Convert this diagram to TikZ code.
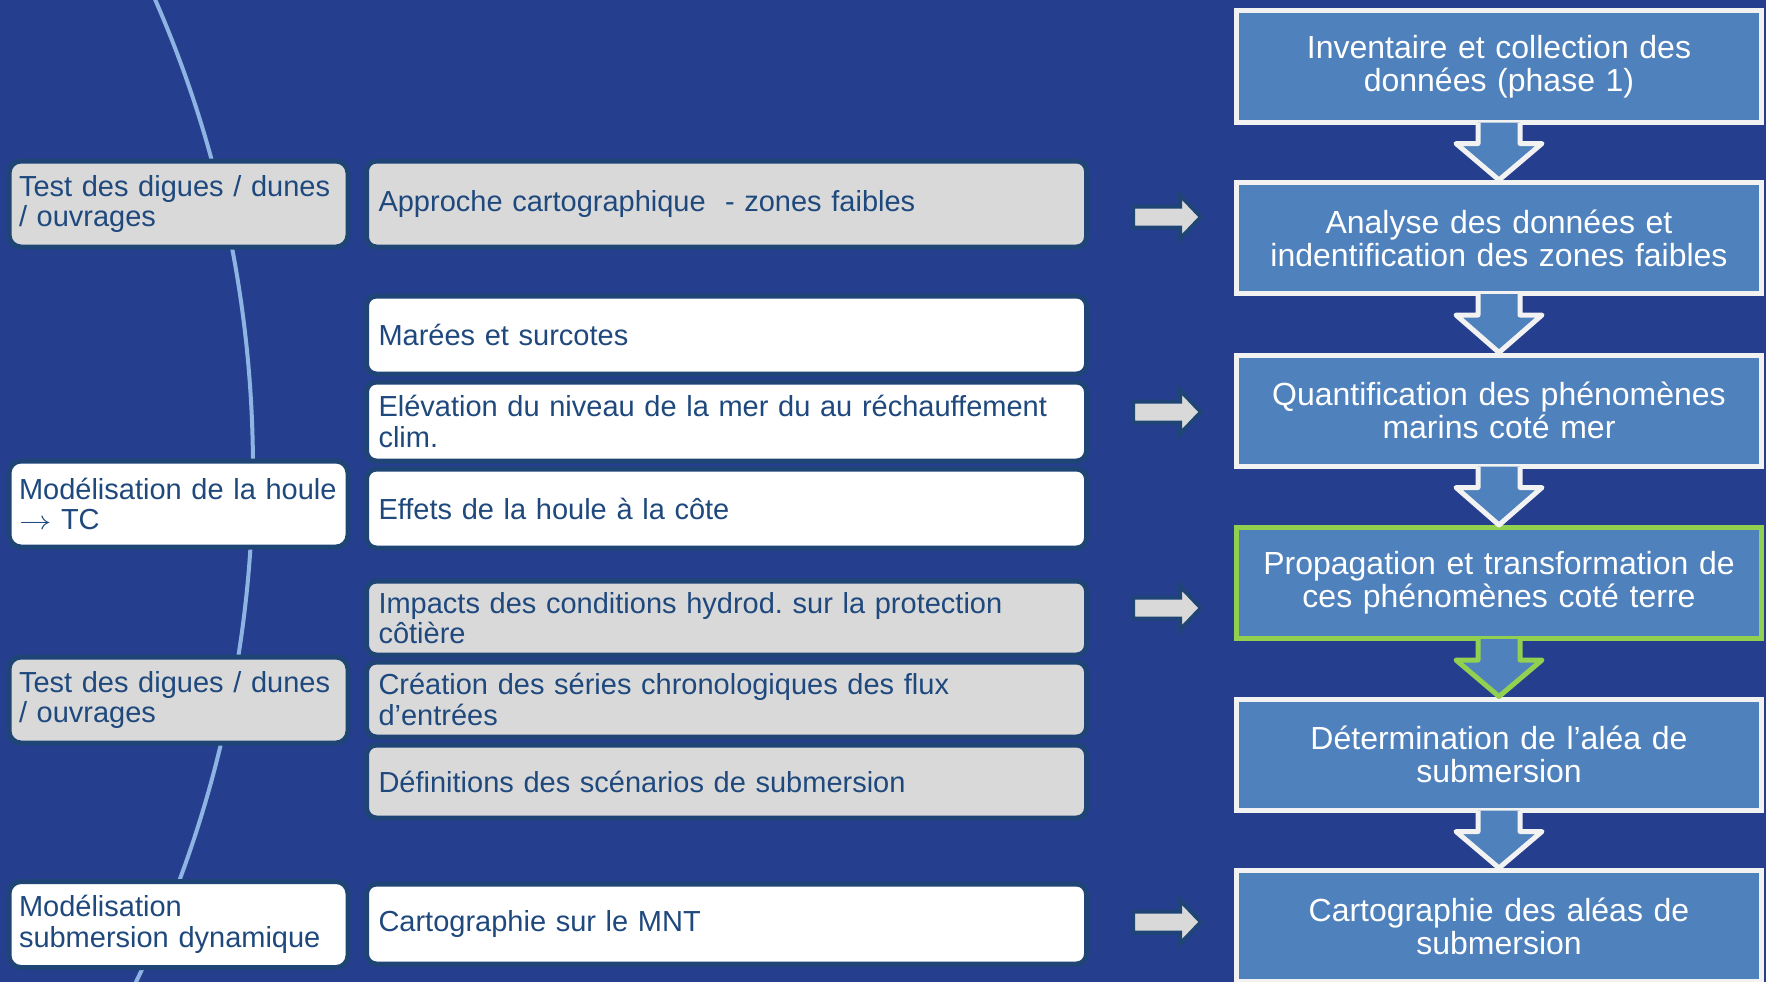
\documentclass[tikz,border=0pt]{standalone}
\usepackage{fontspec}
\setmainfont{Liberation Sans}
\usetikzlibrary{calc,positioning}
\frenchspacing

\definecolor{PageBlue}{RGB}{38,62,142}
\definecolor{StepBlue}{RGB}{79,129,189}
\definecolor{EdgeBlue}{RGB}{31,69,119}
\definecolor{TextBlue}{RGB}{31,73,125}
\definecolor{CurveBlue}{RGB}{141,180,226}
\definecolor{PaleGrey}{RGB}{217,217,217}
\definecolor{FocusGreen}{RGB}{146,208,80}
\definecolor{FrameWhite}{RGB}{242,242,242}

\newcommand{\XLeft}{178.5}
\newcommand{\XMid}{726.5}
\newcommand{\XStep}{1499}
\newcommand{\XSide}{1167}
\newcommand{\BoxFont}{\fontsize{29}{30.5}\selectfont}
\newcommand{\StepFont}{\fontsize{32}{33}\selectfont}

\newcommand{\StepArrow}[3]{%
  % #1 upper step, #2 lower step, #3 outline colour
  \draw[steparrow,draw=#3]
    ($(#1.south)+(-21,-2)$) -- ($(#1.south)+(-21,19)$) -- ($(#1.south)+(-43,19)$)
    -- (#2.north)
    -- ($(#1.south)+(43,19)$) -- ($(#1.south)+(21,19)$) -- ($(#1.south)+(21,-2)$);
}
\newcommand{\SideArrow}[2]{%
  % #1 name, #2 height of the arrow axis
  \coordinate (#1) at (\XSide,#2);
  \draw[sidearrow]
    ($(#1)+(-34,-10.5)$) -- ($(#1)+(13,-10.5)$) -- ($(#1)+(13,-22)$)
    -- ($(#1)+(34,0)$)
    -- ($(#1)+(13,22)$) -- ($(#1)+(13,10.5)$) -- ($(#1)+(-34,10.5)$) -- cycle;
}

\begin{document}
\begin{tikzpicture}[
  x=1pt, y=-1pt,
  sidebox/.style={rectangle,rounded corners=12pt,draw=EdgeBlue,line width=5pt,
    text=TextBlue,font=\BoxFont,align=left,text width=319pt,inner xsep=10pt,
    minimum height=86pt},
  taskbox/.style={rectangle,rounded corners=10pt,draw=EdgeBlue,line width=5pt,
    text=TextBlue,font=\BoxFont,align=left,text width=696pt,inner xsep=12pt},
  stepbox/.style={rectangle,draw=FrameWhite,fill=StepBlue,line width=5pt,
    text=white,font=\StepFont,align=center,text width=500pt,inner xsep=12.5pt,
    minimum height=111pt},
  steparrow/.style={fill=StepBlue,line width=5pt,line join=round},
  sidearrow/.style={draw=EdgeBlue,fill=PaleGrey,line width=4pt,line join=miter},
  curve/.style={draw=CurveBlue,line width=4pt}
]

% Page and the sweeping curve behind the left column
\useasboundingbox (0,0) rectangle (1766,982);
\fill[PageBlue] (0,0) rectangle (1766,982);
\begin{scope}
  \clip (0,0) rectangle (1766,982);
  \draw[curve] (-923,470) circle[radius=1176pt];
\end{scope}

% Left column: methods
\node[sidebox,fill=PaleGrey] (L1) at (\XLeft,204) {Test des digues / dunes\\/ ouvrages};
\node[sidebox,fill=white] (L2) at (\XLeft,504) {Modélisation de la houle\\\scalebox{1.3}[1.05]{$\rightarrow$} TC};
\node[sidebox,fill=PaleGrey] (L3) at (\XLeft,700) {Test des digues / dunes\\/ ouvrages};
\node[sidebox,fill=white] (L4) at (\XLeft,924.5) {Modélisation\\submersion dynamique};

% Middle column: tasks
\node[taskbox,fill=PaleGrey,minimum height=86pt] (M1) at (\XMid,204) {Approche cartographique \ - zones faibles};
\node[taskbox,fill=white,minimum height=78pt] (M2) at (\XMid,335) {Marées et surcotes};
\node[taskbox,fill=white,minimum height=79pt] (M3) at (\XMid,421.5) {Elévation du niveau de la mer du au réchauffement\\clim.};
\node[taskbox,fill=white,minimum height=79pt] (M4) at (\XMid,508.5) {Effets de la houle à la côte};
\node[taskbox,fill=PaleGrey,minimum height=74pt] (M5) at (\XMid,618) {Impacts des conditions hydrod. sur la protection\\côtière};
\node[taskbox,fill=PaleGrey,minimum height=75pt] (M6) at (\XMid,699.5) {Création des séries chronologiques des flux\\d’entrées};
\node[taskbox,fill=PaleGrey,minimum height=73pt] (M7) at (\XMid,781.5) {Définitions des scénarios de submersion};
\node[taskbox,fill=white,minimum height=80pt] (M8) at (\XMid,924) {Cartographie sur le MNT};

% Right column: steps
\node[stepbox] (S1) at (\XStep,66.5) {Inventaire et collection des\\données (phase 1)};
\node[stepbox] (S2) at (\XStep,238) {Analyse des données et\\indentification des zones faibles};
\node[stepbox] (S3) at (\XStep,410.5) {Quantification des phénomènes\\marins coté mer};
\node[stepbox,draw=FocusGreen] (S4) at (\XStep,583) {Propagation et transformation de\\ces phénomènes coté terre};
\node[stepbox] (S5) at (\XStep,754.5) {Détermination de l’aléa de\\submersion};
\node[stepbox] (S6) at (\XStep,926) {Cartographie des aléas de\\submersion};

% Arrows between steps
\StepArrow{S1}{S2}{FrameWhite}
\StepArrow{S2}{S3}{FrameWhite}
\StepArrow{S3}{S4}{FrameWhite}
\StepArrow{S4}{S5}{FocusGreen}
\StepArrow{S5}{S6}{FrameWhite}

% Arrows from tasks to steps
\SideArrow{A1}{217}
\SideArrow{A2}{412}
\SideArrow{A3}{608}
\SideArrow{A4}{922}

\end{tikzpicture}
\end{document}
